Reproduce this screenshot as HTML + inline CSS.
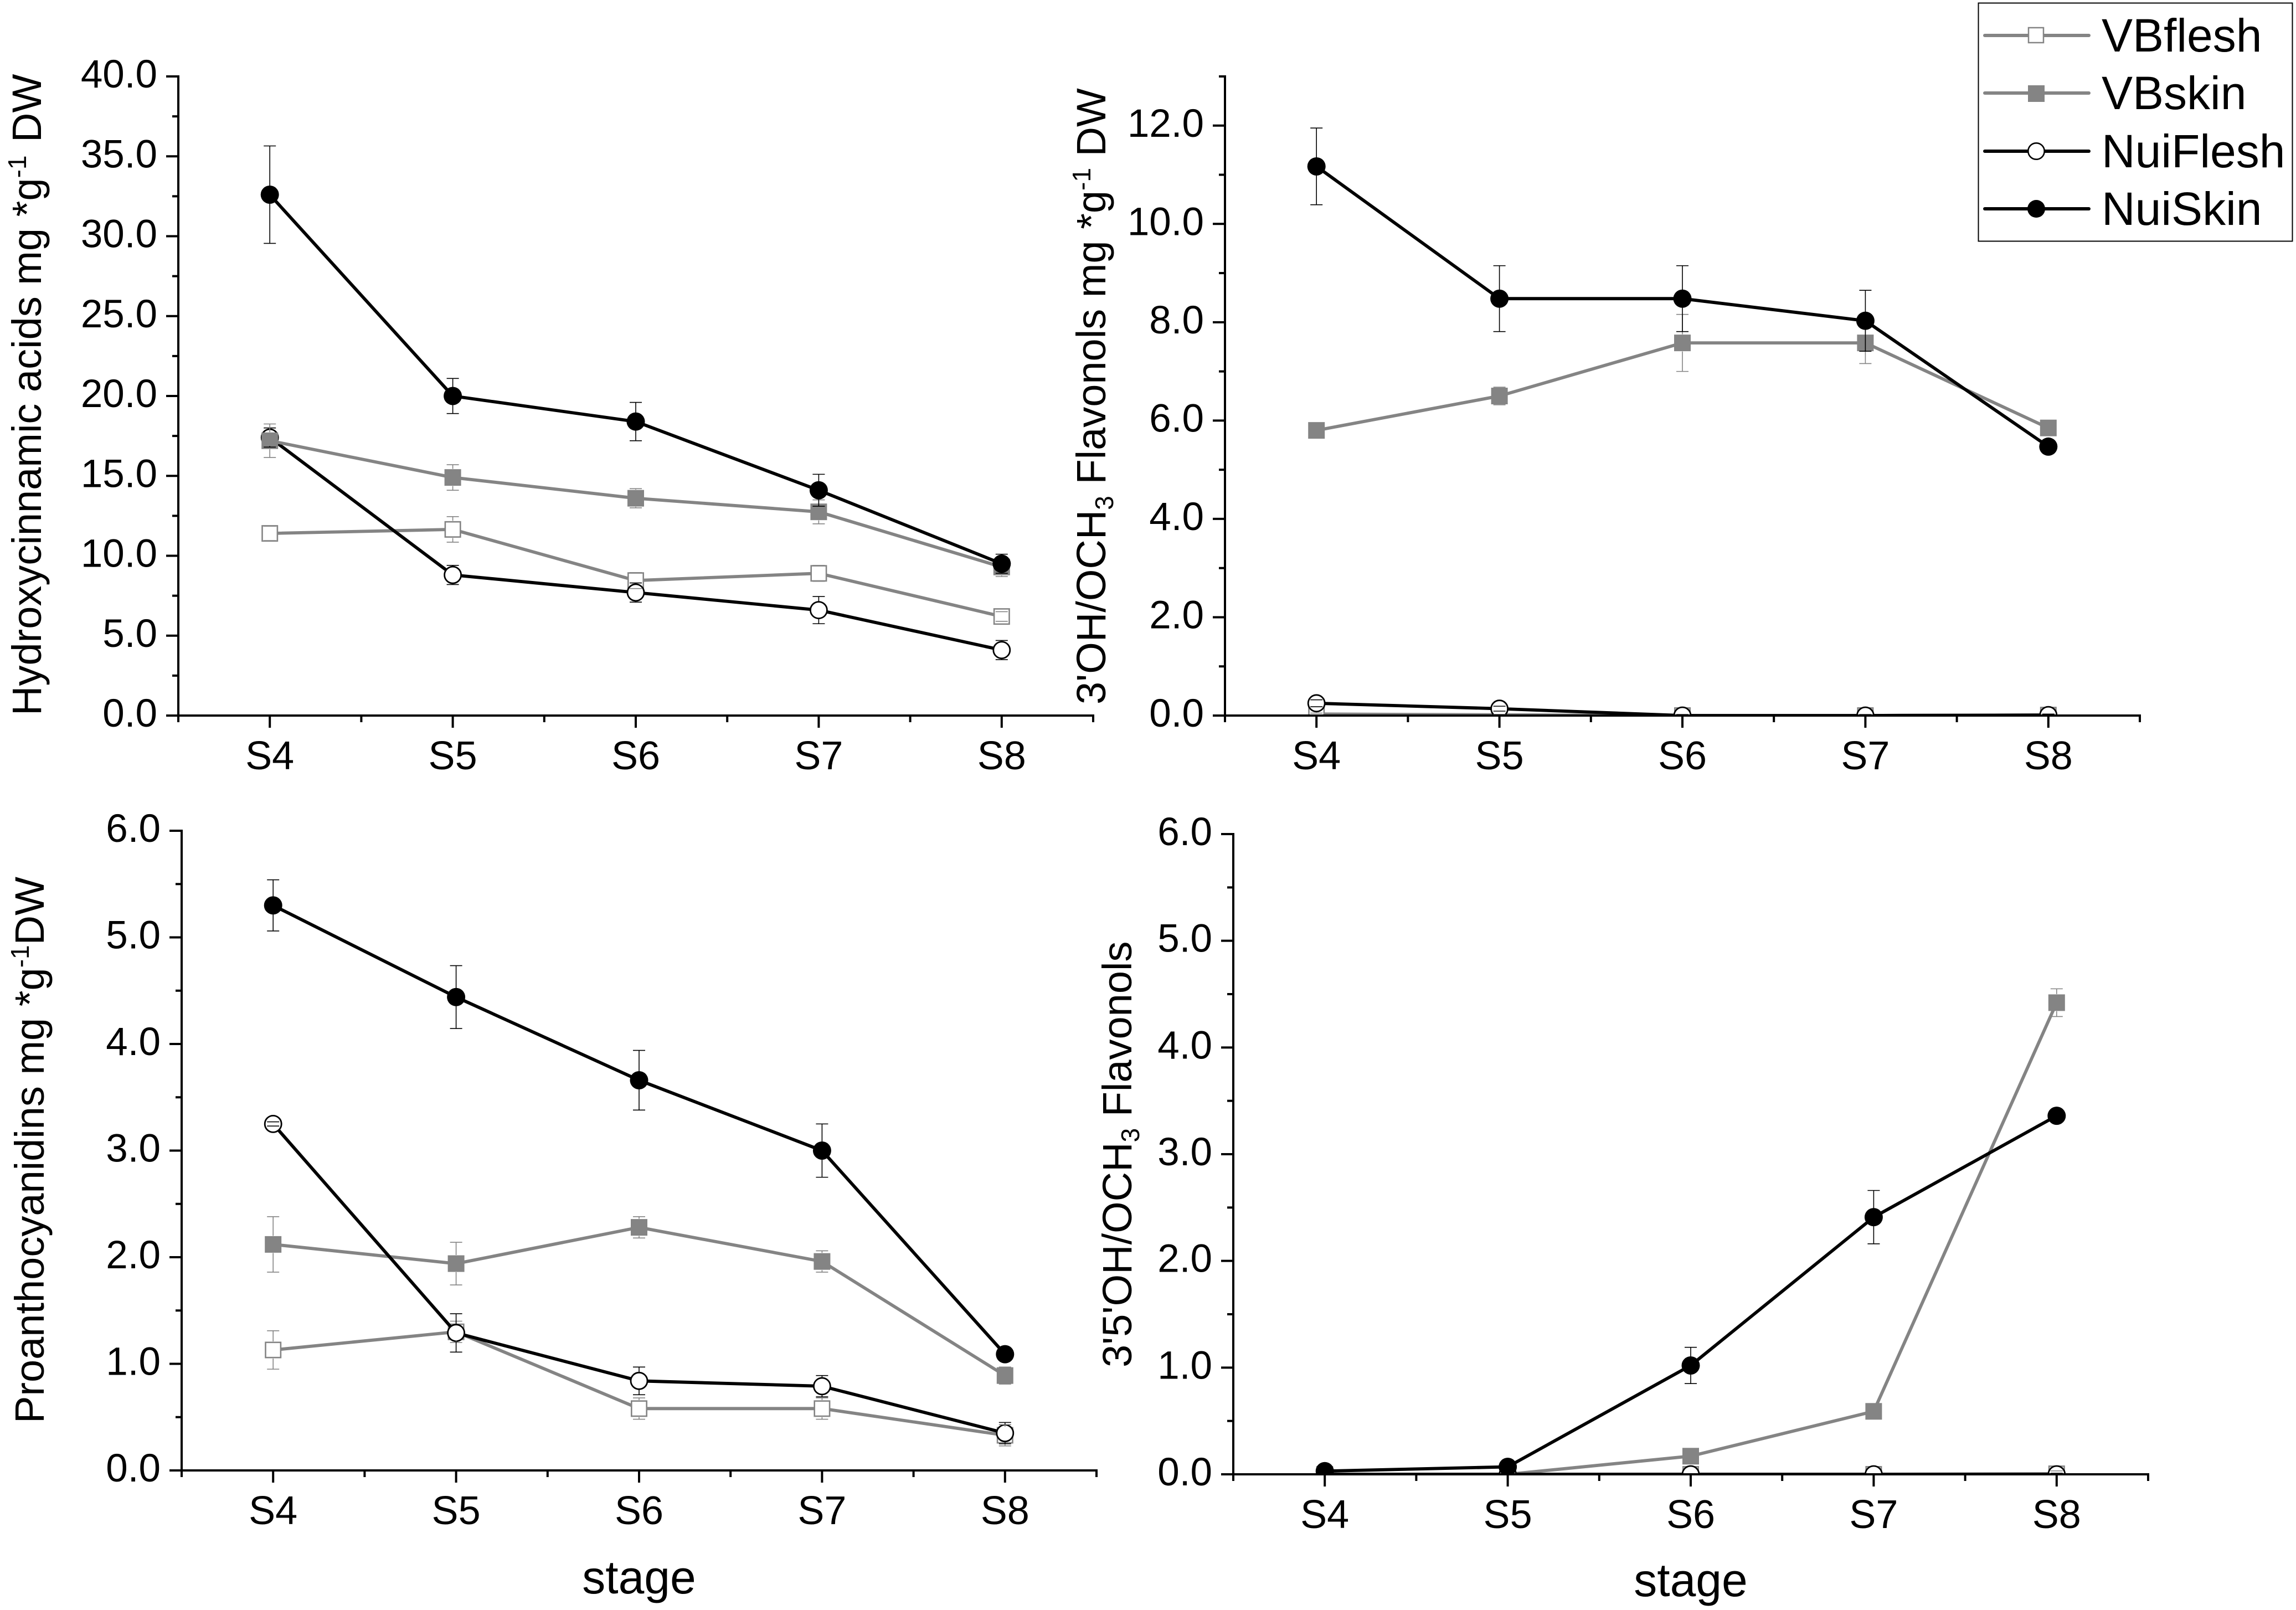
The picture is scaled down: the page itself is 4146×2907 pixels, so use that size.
<!DOCTYPE html>
<html lang="en">
<head>
<meta charset="utf-8">
<title>Phenolic compounds by ripening stage</title>
<style>
html,body{margin:0;padding:0;background:#fff;}
svg{display:block;font-family:"Liberation Sans",Arial,sans-serif;}
text{fill:#000;}
</style>
</head>
<body>
<svg id="figure" xmlns="http://www.w3.org/2000/svg" width="4146" height="2907" viewBox="0 0 4146 2907">
  <rect x="0" y="0" width="4146" height="2907" fill="#fff"/>

  <text transform="translate(74,1292) rotate(-90)" font-size="74" xml:space="preserve">Hydroxycinnamic acids mg *g<tspan dy="-27" font-size="46">-1</tspan><tspan dy="27" dx="3"> DW</tspan></text>
  <text transform="translate(1996,1272) rotate(-90)" font-size="74" xml:space="preserve">3'OH/OCH<tspan dy="14" font-size="46">3</tspan><tspan dy="-14"> Flavonols mg *g</tspan><tspan dy="-27" font-size="46">-1</tspan><tspan dy="27"> DW</tspan></text>
  <text transform="translate(79,2570) rotate(-90)" font-size="74" xml:space="preserve">Proanthocyanidins mg *g<tspan dy="-27" font-size="46">-1</tspan><tspan dy="27">DW</tspan></text>
  <text transform="translate(2043,2469) rotate(-90)" font-size="74" xml:space="preserve">3'5'OH/OCH<tspan dy="14" font-size="46">3</tspan><tspan dy="-14"> Flavonols</tspan></text>

  <text x="1154" y="2877" font-size="84" text-anchor="middle">stage</text>
  <text x="3053" y="2882" font-size="84" text-anchor="middle">stage</text>

  <g id="panels"></g>

  <g>
    <rect x="3572.5" y="5.5" width="567" height="430" fill="#fff" stroke="#000" stroke-width="2"/>
    <g>
      <line x1="3584" y1="64" x2="3772" y2="64" stroke="#848484" stroke-width="6" stroke-linecap="round"/>
      <rect x="3663" y="50" width="27" height="27" fill="#fff" stroke="#848484" stroke-width="2.5"/>
      <text x="3795" y="93" font-size="84">VBflesh</text>
    </g>
    <g>
      <line x1="3584" y1="168" x2="3772" y2="168" stroke="#848484" stroke-width="6" stroke-linecap="round"/>
      <rect x="3662" y="154" width="30" height="30" fill="#848484"/>
      <text x="3795" y="197" font-size="84">VBskin</text>
    </g>
    <g>
      <line x1="3584" y1="273" x2="3772" y2="273" stroke="#000" stroke-width="6" stroke-linecap="round"/>
      <circle cx="3677" cy="273" r="14.7" fill="#fff" stroke="#000" stroke-width="2.6"/>
      <text x="3795" y="302" font-size="84">NuiFlesh</text>
    </g>
    <g>
      <line x1="3584" y1="377" x2="3772" y2="377" stroke="#000" stroke-width="6" stroke-linecap="round"/>
      <circle cx="3677" cy="377" r="16" fill="#000"/>
      <text x="3795" y="406" font-size="84">NuiSkin</text>
    </g>
  </g>
</svg>

<script>
// Categories
const stages = ['S4', 'S5', 'S6', 'S7', 'S8'];

// Hydroxycinnamic acids
const hcaTicks = ['0.0', '5.0', '10.0', '15.0', '20.0', '25.0', '30.0', '35.0', '40.0'];
const hcaVBflesh = [11.4, 11.65, 8.45, 8.9, 6.2];
const hcaVBfleshErr = [0.45, 0.8, 0.5, 0.5, 0.3];
const hcaVBskin = [17.2, 14.9, 13.6, 12.75, 9.3];
const hcaVBskinErr = [1.05, 0.8, 0.6, 0.75, 0.6];
const hcaNuiFlesh = [17.4, 8.8, 7.7, 6.6, 4.1];
const hcaNuiFleshErr = [0.6, 0.6, 0.6, 0.85, 0.6];
const hcaNuiSkin = [32.6, 20.0, 18.4, 14.1, 9.5];
const hcaNuiSkinErr = [3.05, 1.1, 1.2, 1.0, 0.6];

// 3'OH/OCH3 flavonols
const flavTicks = ['0.0', '2.0', '4.0', '6.0', '8.0', '10.0', '12.0'];
const flavVBflesh = [0.03, 0.015, 0, 0, 0.01];
const flavVBfleshErr = [0.02, 0.01, 0.01, 0.01, 0.02];
const flavVBskin = [5.8, 6.5, 7.58, 7.58, 5.85];
const flavVBskinErr = [0.05, 0.18, 0.58, 0.42, 0.05];
const flavNuiFlesh = [0.25, 0.14, 0, 0, 0.01];
const flavNuiFleshErr = [0.07, 0.05, 0.02, 0.02, 0.02];
const flavNuiSkin = [11.17, 8.48, 8.48, 8.03, 5.47];
const flavNuiSkinErr = [0.78, 0.67, 0.67, 0.62, 0.05];

// Proanthocyanidins
const paTicks = ['0.0', '1.0', '2.0', '3.0', '4.0', '5.0', '6.0'];
const paVBflesh = [1.13, 1.3, 0.58, 0.58, 0.33];
const paVBfleshErr = [0.18, 0.1, 0.1, 0.1, 0.1];
const paVBskin = [2.12, 1.94, 2.28, 1.96, 0.89];
const paVBskinErr = [0.26, 0.2, 0.1, 0.1, 0.08];
const paNuiFlesh = [3.25, 1.29, 0.84, 0.79, 0.35];
const paNuiFleshErr = [0.02, 0.18, 0.13, 0.1, 0.1];
const paNuiSkin = [5.3, 4.44, 3.66, 3.0, 1.09];
const paNuiSkinErr = [0.24, 0.295, 0.28, 0.25, 0.03];

// 3'5'OH/OCH3 flavonols
const dhTicks = ['0.0', '1.0', '2.0', '3.0', '4.0', '5.0', '6.0'];
const dhVBflesh = [0, 0, 0, 0, 0.005];
const dhVBfleshErr = [0, 0, 0, 0, 0.027];
const dhVBskin = [0, 0, 0.17, 0.59, 4.42];
const dhVBskinErr = [0, 0, 0.01, 0.02, 0.13];
const dhNuiFlesh = [0, 0, 0, 0, 0];
const dhNuiFleshErr = [0, 0, 0, 0, 0.01];
const dhNuiSkin = [0.03, 0.07, 1.02, 2.41, 3.36];
const dhNuiSkinErr = [0.01, 0.01, 0.17, 0.25, 0.02];

const SVG_NS = 'http://www.w3.org/2000/svg';
const GRAY = '#848484';
const BLACK = '#000';

function make(parent, tag, attrs) {
  const el = document.createElementNS(SVG_NS, tag);
  for (const k in attrs) el.setAttribute(k, attrs[k]);
  parent.appendChild(el);
  return el;
}

const seriesStyle = {
  VBflesh: { color: GRAY, marker: 'square', open: true },
  VBskin: { color: GRAY, marker: 'square', open: false },
  NuiFlesh: { color: BLACK, marker: 'circle', open: true },
  NuiSkin: { color: BLACK, marker: 'circle', open: false }
};

const panels = [
  {
    id: 'hydroxycinnamic', left: 322, top: 138, bottom: 1292, yMax: 40, ticks: hcaTicks,
    order: ['VBflesh', 'NuiFlesh', 'VBskin', 'NuiSkin'],
    values: { VBflesh: hcaVBflesh, VBskin: hcaVBskin, NuiFlesh: hcaNuiFlesh, NuiSkin: hcaNuiSkin },
    errors: { VBflesh: hcaVBfleshErr, VBskin: hcaVBskinErr, NuiFlesh: hcaNuiFleshErr, NuiSkin: hcaNuiSkinErr }
  },
  {
    id: '3oh-flavonols', left: 2212, top: 138, bottom: 1292, yMax: 13, ticks: flavTicks,
    order: ['VBflesh', 'VBskin', 'NuiFlesh', 'NuiSkin'],
    values: { VBflesh: flavVBflesh, VBskin: flavVBskin, NuiFlesh: flavNuiFlesh, NuiSkin: flavNuiSkin },
    errors: { VBflesh: flavVBfleshErr, VBskin: flavVBskinErr, NuiFlesh: flavNuiFleshErr, NuiSkin: flavNuiSkinErr }
  },
  {
    id: 'proanthocyanidins', left: 328, top: 1500, bottom: 2655, yMax: 6, ticks: paTicks,
    order: ['VBflesh', 'VBskin', 'NuiFlesh', 'NuiSkin'],
    values: { VBflesh: paVBflesh, VBskin: paVBskin, NuiFlesh: paNuiFlesh, NuiSkin: paNuiSkin },
    errors: { VBflesh: paVBfleshErr, VBskin: paVBskinErr, NuiFlesh: paNuiFleshErr, NuiSkin: paNuiSkinErr }
  },
  {
    id: '35oh-flavonols', left: 2227, top: 1506, bottom: 2662, yMax: 6, ticks: dhTicks,
    order: ['VBflesh', 'VBskin', 'NuiFlesh', 'NuiSkin'],
    values: { VBflesh: dhVBflesh, VBskin: dhVBskin, NuiFlesh: dhNuiFlesh, NuiSkin: dhNuiSkin },
    errors: { VBflesh: dhVBfleshErr, VBskin: dhVBskinErr, NuiFlesh: dhNuiFleshErr, NuiSkin: dhNuiSkinErr }
  }
];

const CAT_STEP = 330.4;
const MARKER_GAP = 15.5;
const root = document.getElementById('panels');

function drawSeries(g, name, panel, xScale, yScale) {
  const style = seriesStyle[name];
  const vals = panel.values[name];
  const pts = vals.map((v, i) => xScale(i).toFixed(1) + ',' + yScale(v).toFixed(1)).join(' ');
  const line = make(g, 'polyline', { points: pts, fill: 'none', stroke: style.color, 'stroke-width': 5.8, 'stroke-linejoin': 'round' });
  
  
  vals.forEach((v, i) => {
    const cx = xScale(i), cy = yScale(v);
    let m;
    if (style.marker === 'square') {
      m = style.open
        ? make(g, 'rect', { x: cx - 13.7, y: cy - 13.7, width: 27.4, height: 27.4, fill: '#fff', stroke: style.color, 'stroke-width': 2.6 })
        : make(g, 'rect', { x: cx - 15, y: cy - 15, width: 30, height: 30, fill: style.color });
    } else {
      m = style.open
        ? make(g, 'circle', { cx: cx, cy: cy, r: 15, fill: '#fff', stroke: style.color, 'stroke-width': 2.8 })
        : make(g, 'circle', { cx: cx, cy: cy, r: 16.5, fill: style.color });
    }
    
    
  });
}

// Caps are always drawn; the stem stops at the marker edge.
function drawErrors(g, name, panel, xScale, yScale) {
  const color = seriesStyle[name].color;
  panel.values[name].forEach((v, i) => {
    const e = panel.errors[name][i];
    const cx = xScale(i), cy = yScale(v), y1 = yScale(v + e), y2 = yScale(v - e);
    let d = 'M' + (cx - 11) + ' ' + y1 + 'H' + (cx + 11) + 'M' + (cx - 11) + ' ' + y2 + 'H' + (cx + 11);
    if (cy - y1 > MARKER_GAP) d += 'M' + cx + ' ' + y1 + 'V' + (cy - MARKER_GAP);
    if (y2 - cy > MARKER_GAP) d += 'M' + cx + ' ' + (cy + MARKER_GAP) + 'V' + y2;
    const bar = make(g, 'path', { d: d, fill: 'none', stroke: color, 'stroke-width': 1.6 });
    
    
  });
}

panels.forEach(panel => {
  const width = CAT_STEP * stages.length;
  const right = panel.left + width;
  const xScale = i => panel.left + CAT_STEP * (i + 0.5);
  const yScale = v => panel.bottom - (v / panel.yMax) * (panel.bottom - panel.top);

  const g = make(root, 'g', {});
  
  

  const clipId = 'clip-' + panel.id;
  const defs = make(g, 'defs', {});
  const clip = make(defs, 'clipPath', { id: clipId });
  make(clip, 'rect', { x: panel.left - 10, y: panel.top - 30, width: width + 20, height: panel.bottom - panel.top + 30 });

  // Series, clipped at the axis line
  const plot = make(g, 'g', { 'clip-path': 'url(#' + clipId + ')' });
  
  
  panel.order.filter(n => n !== 'NuiSkin').forEach(n => drawSeries(plot, n, panel, xScale, yScale));
  panel.order.forEach(n => drawErrors(plot, n, panel, xScale, yScale));
  drawSeries(plot, 'NuiSkin', panel, xScale, yScale);

  // Axes
  const yAxis = make(g, 'line', { x1: panel.left, y1: panel.top - 2, x2: panel.left, y2: panel.bottom, stroke: '#000', 'stroke-width': 4 });
  
  
  const xAxis = make(g, 'line', { x1: panel.left - 2, y1: panel.bottom, x2: right + 2, y2: panel.bottom, stroke: '#000', 'stroke-width': 4 });
  
  

  // Y ticks and labels
  const major = parseFloat(panel.ticks[1]) - parseFloat(panel.ticks[0]);
  panel.ticks.forEach(label => {
    const v = parseFloat(label);
    const y = yScale(v);
    const t = make(g, 'line', { x1: panel.left - 22, y1: y, x2: panel.left, y2: y, stroke: '#000', 'stroke-width': 4 });
    
    
    const txt = make(g, 'text', { x: panel.left - 38, y: y + 20, 'font-size': 71, 'text-anchor': 'end' });
    
    
    txt.textContent = label;
  });
  for (let v = major / 2; v <= panel.yMax; v += major) {
    const y = yScale(v);
    const t = make(g, 'line', { x1: panel.left - 11, y1: y, x2: panel.left, y2: y, stroke: '#000', 'stroke-width': 4 });
    
    
  }

  // X ticks and labels
  stages.forEach((s, i) => {
    const x = xScale(i);
    const t = make(g, 'line', { x1: x, y1: panel.bottom, x2: x, y2: panel.bottom + 22, stroke: '#000', 'stroke-width': 4 });
    
    
    const txt = make(g, 'text', { x: x, y: panel.bottom + 97, 'font-size': 72, 'text-anchor': 'middle' });
    
    
    txt.textContent = s;
  });
  for (let i = 0; i <= stages.length; i++) {
    const x = panel.left + CAT_STEP * i;
    const t = make(g, 'line', { x1: x, y1: panel.bottom, x2: x, y2: panel.bottom + 12, stroke: '#000', 'stroke-width': 4 });
    
    
  }
});
</script>
</body>
</html>
